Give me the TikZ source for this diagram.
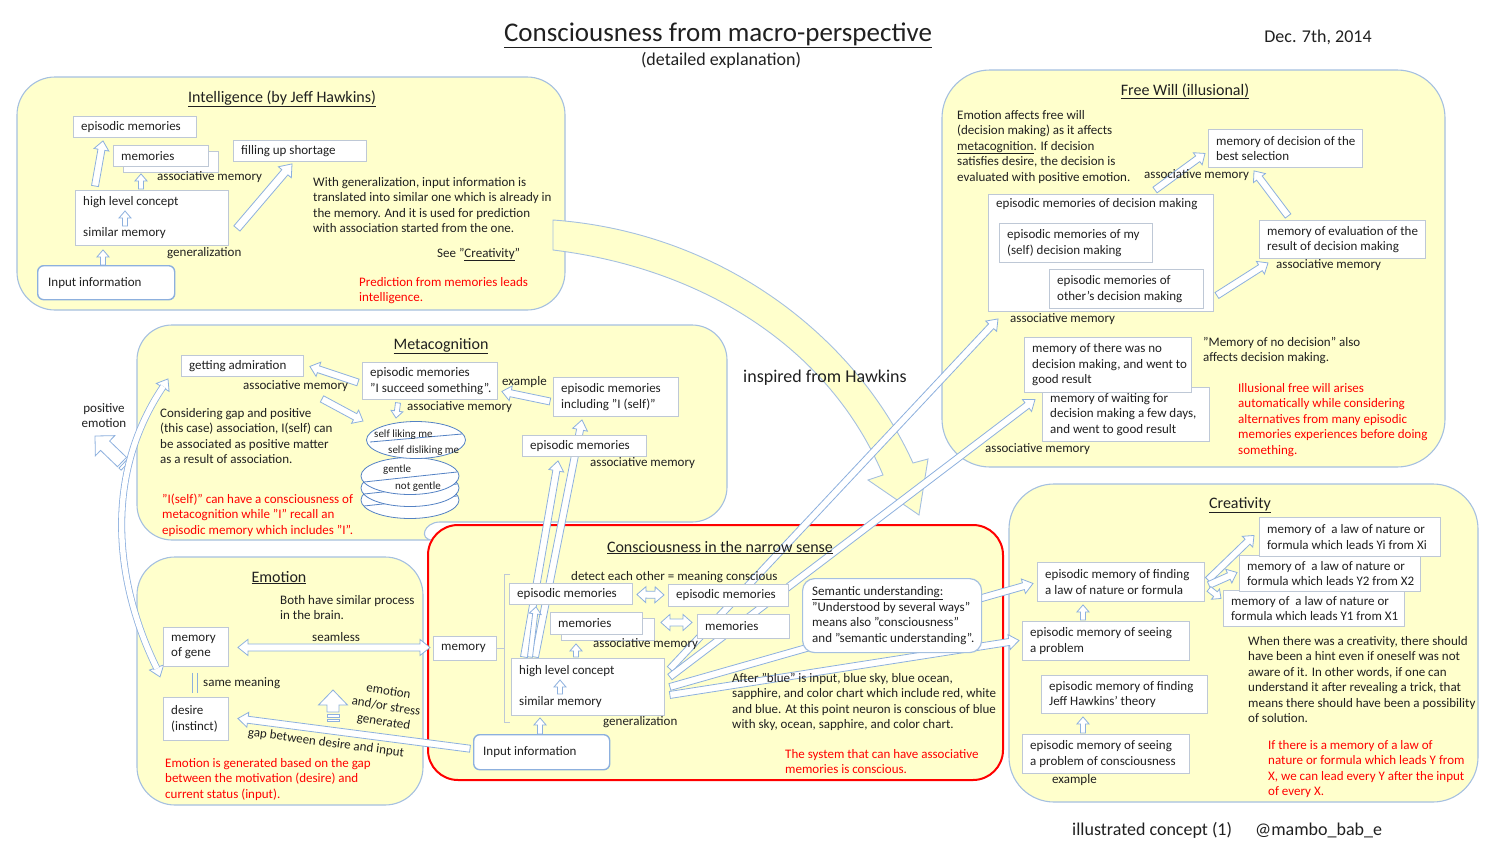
\documentclass[tikz,border=0pt]{standalone}
\usepackage{fontspec}
\setmainfont{Carlito}
\usetikzlibrary{calc}

\definecolor{panelfill}{RGB}{255,255,204}
\definecolor{panelline}{RGB}{165,192,224}
\definecolor{boxline}{RGB}{190,200,214}
\definecolor{arrowline}{RGB}{141,176,222}
\definecolor{discline}{RGB}{84,130,196}
\definecolor{txt}{RGB}{32,32,32}

\newcommand{\titlesize}{\fontsize{27}{32}\selectfont}
\newcommand{\subsize}{\fontsize{18}{22}\selectfont}
\newcommand{\hdrsize}{\fontsize{16}{19}\selectfont}
\newcommand{\bodysize}{\fontsize{13}{15.5}\selectfont}
\newcommand{\discsize}{\fontsize{11}{13}\selectfont}

\pgfdeclarelayer{panels}
\pgfdeclarelayer{arrows}
\pgfsetlayers{panels,arrows,main}

% hollow block arrow: tail, tip, shaft half width, head half width, head length
\newcommand{\blockarrow}[5]{%
  \coordinate (ta) at (#1);
  \coordinate (tb) at (#2);
  \coordinate (hb) at ($(tb)!#5!(ta)$);
  \filldraw[harrow] ($(ta)!#3!90:(tb)$) -- ($(hb)!#3!90:(tb)$) -- ($(hb)!#4!90:(tb)$) -- (tb)
    -- ($(hb)!#4!-90:(tb)$) -- ($(hb)!#3!-90:(tb)$) -- ($(ta)!#3!-90:(tb)$) -- cycle;}
% same with a head at both ends
\newcommand{\dblockarrow}[5]{%
  \coordinate (ta) at (#1);
  \coordinate (tb) at (#2);
  \coordinate (ha) at ($(ta)!#5!(tb)$);
  \coordinate (hb) at ($(tb)!#5!(ta)$);
  \filldraw[harrow] (ta) -- ($(ha)!#4!90:(tb)$) -- ($(ha)!#3!90:(tb)$) -- ($(hb)!#3!90:(tb)$)
    -- ($(hb)!#4!90:(tb)$) -- (tb) -- ($(hb)!#4!-90:(tb)$) -- ($(hb)!#3!-90:(tb)$)
    -- ($(ha)!#3!-90:(tb)$) -- ($(ha)!#4!-90:(tb)$) -- cycle;}

\tikzset{
  panel/.style={draw=panelline, fill=panelfill, line width=1.1pt},
  box/.style 2 args={draw=boxline, fill=white, line width=0.9pt, anchor=north west,
    inner sep=0pt, minimum width=#1, minimum height=#2},
  inbox/.style 2 args={box={#1}{#2}, draw=arrowline, line width=1.4pt, rounded corners=6pt},
  boxtext/.style={anchor=west, xshift=8pt, align=left, inner sep=0pt},
  lbl/.style={anchor=base west, inner sep=0pt, align=left},
  redlbl/.style={lbl, text=red},
  hdr/.style={anchor=base, inner sep=0pt, font=\hdrsize},
  harrow/.style={draw=arrowline, fill=white, line width=0.8pt, line join=miter},
  discshape/.style={draw=discline, fill=white, line width=0.8pt},
}

\begin{document}
\begin{tikzpicture}[x=1pt, y=-1pt, font=\bodysize, text=txt]
  \useasboundingbox (0,0) rectangle (1500,844);

  % panels
  \begin{pgfonlayer}{panels}
    \draw[panel, rounded corners=38pt] (17,77) rectangle (565,310);
    \draw[panel] [rounded corners=35pt] (440,522) -- (727,522) -- (727,325) -- (137,325) -- (137,540) -- (398,540)
      [sharp corners] .. controls (418,540) and (424,522) .. cycle;
    \draw[panel, rounded corners=38pt] (137,557) rectangle (423,805);
    \draw[panel, rounded corners=48pt] (942,70) rectangle (1445,467);
    \draw[panel, rounded corners=45pt] (1009,484) rectangle (1478,802);
    \draw[panel, draw=red, line width=2pt, rounded corners=30pt] (428,525) rectangle (1003,780);
    % inspired from Hawkins
    \filldraw[panel, line width=0.9pt] (553,220) .. controls (720,232) and (855,335) .. (913,463)
      -- (928,459) -- (919,515) -- (868,480) -- (883,475)
      .. controls (828,345) and (700,268) .. (553,250) -- cycle;
  \end{pgfonlayer}

  % title
  \node[anchor=base, font=\titlesize] (title) at (718,41) {\underline{Consciousness from macro-perspective}};
  \node[anchor=base, font=\subsize] (subtitle) at (721,65) {(detailed explanation)};
  \node[anchor=base, font=\subsize] (date) at (1318,42) {Dec. 7th, 2014};

  % Intelligence
  \node[hdr] (intTitle) at (282,102) {\underline{Intelligence (by Jeff Hawkins)}};
  \node[box={123}{21}, label={[boxtext]west:{episodic memories}}] (intEpi) at (73,116) {};
  \node[box={95}{21}] (intMemB) at (123,151) {};
  \node[box={95}{21}, label={[boxtext]west:{memories}}] (intMem) at (113,145) {};
  \node[box={133}{21}, label={[boxtext]west:{filling up shortage}}] (intFill) at (233,140) {};
  \node[box={153}{55}, label={[boxtext]west:{high level concept\\[15.5pt]similar memory}}] (intHlc) at (75,190) {};
  \node[inbox={137}{34}, label={[boxtext, xshift=3pt]west:{Input information}}] (intInput) at (37,265) {};
  \node[lbl] (intAssoc) at (157,180) {associative memory};
  \node[lbl] (intGen) at (167,256) {generalization};
  \node[lbl] (intNote) at (313,232.5) {With generalization, input information is\\translated into similar one which is already in\\the memory. And it is used for prediction\\with association started from the one.};
  \node[lbl] (intSee) at (437,257) {See "\underline{Creativity}"};
  \node[redlbl] (intRed) at (359,301.5) {Prediction from memories leads\\intelligence.};

  % Metacognition
  \node[hdr] (metTitle) at (441,349) {\underline{Metacognition}};
  \node[box={122}{21}, label={[boxtext]west:{getting admiration}}] (metAdm) at (181,355) {};
  \node[box={135}{37}, label={[boxtext]west:{episodic memories\\"I succeed something".}}] (metSucc) at (362,362) {};
  \node[box={125}{39}, label={[boxtext]west:{episodic memories\\including "I (self)"}}] (metIncl) at (553,377) {};
  \node[box={124}{21}, label={[boxtext]west:{episodic memories}}] (metEpi) at (522,435) {};
  \node[lbl] (metAssocA) at (243,389) {associative memory};
  \node[lbl] (metExample) at (502,385) {example};
  \node[lbl] (metAssocB) at (407,410) {associative memory};
  \node[lbl] (metAssocC) at (590,466) {associative memory};
  \node[lbl] (metNote) at (160,463.5) {Considering gap and positive\\(this case) association, I(self) can\\be associated as positive matter\\as a result of association.};
  \node[redlbl] (metRed) at (162,534) {"I(self)" can have a consciousness of\\metacognition while "I" recall an\\episodic memory which includes "I".};
  \coordinate (disc) at (416,440);
  \foreach \dy in {60,48,36} {
    \draw[discshape] ($(disc)+(-6,\dy)$) ellipse [x radius=49pt, y radius=18.5pt];
    \draw[discline, line width=0.8pt] ($(disc)+(-52,\dy+6)$) -- ($(disc)+(41,\dy-4)$);
  }
  \draw[discshape] (disc) ellipse [x radius=49.5pt, y radius=18.5pt];
  \draw[discline, line width=0.8pt] ($(disc)+(-46,2)$) -- ($(disc)+(46,-6)$);
  \node[lbl, font=\discsize] (discLike) at ($(disc)+(-42,-3)$) {self liking me};
  \node[lbl, font=\discsize] (discDislike) at ($(disc)+(-28,13)$) {self disliking me};
  \node[lbl, font=\discsize] (discGentle) at ($(disc)+(-33,32)$) {gentle};
  \node[lbl, font=\discsize] (discNot) at ($(disc)+(-21,49)$) {not gentle};
  \node[anchor=base, align=center, inner sep=0pt] (posEmo) at (104,427.5) {positive\\emotion};

  % Emotion
  \node[hdr] (emoTitle) at (279,582) {\underline{Emotion}};
  \node[lbl] (emoBoth) at (280,619.5) {Both have similar process\\in the brain.};
  \node[box={65}{39}, label={[boxtext]west:{memory\\of gene}}] (emoGene) at (163,627) {};
  \node[lbl] (emoSeamless) at (312,641) {seamless};
  \draw[arrowline, line width=0.9pt] ($(emoGene.south west)+(29,6)$) -- +(0,20)
    ($(emoGene.south west)+(34,6)$) -- +(0,20);
  \node[lbl] (emoSame) at (203,686) {same meaning};
  \node[box={65}{43}, label={[boxtext]west:{desire\\(instinct)}}] (emoDesire) at (163,697) {};
  \node[align=center, rotate=-9, inner sep=0pt] (emoStress) at (386,707) {emotion\\and/or stress\\generated};
  \node[rotate=-7.5, inner sep=0pt] (emoGap) at (326,743) {gap between desire and input};
  \node[redlbl] (emoRed) at (165,798) {Emotion is generated based on the gap\\between the motivation (desire) and\\current status (input).};

  % Consciousness in the narrow sense
  \node[hdr] (conTitle) at (720,552) {\underline{Consciousness in the narrow sense}};
  \node[lbl] (conDetect) at (571,580) {detect each other = meaning conscious};
  \node[box={63}{24}, label={[boxtext]west:{memory}}] (conMem) at (433,636) {};
  \draw[boxline, line width=0.9pt] (510,574) -- (504,574) -- (504,722) -- (510,722) (497,648) -- (504,648);
  \node[box={123}{21}, label={[boxtext]west:{episodic memories}}] (conEpiL) at (509,583) {};
  \node[box={120}{22}, label={[boxtext]west:{episodic memories}}] (conEpiR) at (668,584) {};
  \node[box={93}{22}] (conMemLB) at (561,618) {};
  \node[box={92}{22}, label={[boxtext]west:{memories}}] (conMemL) at (550,612) {};
  \node[box={92}{24}, label={[boxtext]west:{memories}}] (conMemR) at (697,614) {};
  \node[lbl] (conAssoc) at (593,647) {associative memory};
  \node[box={153}{57}, label={[boxtext]west:{high level concept\\[15.5pt]similar memory}}] (conHlc) at (511,658) {};
  \node[lbl] (conGen) at (603,725) {generalization};
  \node[inbox={136}{35}, label={[boxtext, xshift=2pt]west:{Input information}}] (conInput) at (473,734) {};
  \node[box={179}{74}, draw=panelline, line width=1.2pt, rounded corners=12pt,
    label={[boxtext, xshift=2pt]west:{\underline{Semantic understanding:}\\"Understood by several ways"\\means also "consciousness"\\and "semantic understanding".}}] (conSem) at (802,578) {};
  \node[lbl] (conBlue) at (732,728.5) {After "blue" is input, blue sky, blue ocean,\\sapphire, and color chart which include red, white\\and blue. At this point neuron is conscious of blue\\with sky, ocean, sapphire, and color chart.};
  \node[redlbl] (conRed) at (785,773.5) {The system that can have associative\\memories is conscious.};
  \node[lbl, font=\subsize] (inspired) at (743,382) {inspired from Hawkins};

  % Free Will
  \node[hdr] (fwTitle) at (1185,95) {\underline{Free Will (illusional)}};
  \node[lbl] (fwNote) at (957,181) {Emotion affects free will\\(decision making) as it affects\\\underline{metacognition}. If decision\\satisfies desire, the decision is\\evaluated with positive emotion.};
  \node[box={154}{38}, label={[boxtext]west:{memory of decision of the\\best selection}}] (fwBest) at (1208,129) {};
  \node[lbl] (fwAssocA) at (1144,178) {associative memory};
  \node[box={166}{38}, label={[boxtext]west:{memory of evaluation of the\\result of decision making}}] (fwEval) at (1259,220) {};
  \node[lbl] (fwAssocB) at (1276,268) {associative memory};
  \node[box={225}{117}, label={[boxtext, anchor=north west, yshift=-4pt]north west:{episodic memories of decision making}}] (fwOuter) at (988,194) {};
  \node[box={153}{39}, label={[boxtext]west:{episodic memories of my\\(self) decision making}}] (fwSelf) at (999,223) {};
  \node[box={154}{39}, label={[boxtext]west:{episodic memories of\\other's decision making}}] (fwOther) at (1049,269) {};
  \node[lbl] (fwAssocC) at (1010,322) {associative memory};
  \node[box={167}{54}, label={[boxtext]west:{memory of waiting for\\decision making a few days,\\and went to good result}}] (fwWait) at (1042,387) {};
  \node[box={167}{55}, label={[boxtext]west:{memory of there was no\\decision making, and went to\\good result}}] (fwNone) at (1024,337) {};
  \node[lbl] (fwAssocD) at (985,452) {associative memory};
  \node[lbl] (fwNoDec) at (1203,361.5) {"Memory of no decision" also\\affects decision making.};
  \node[redlbl] (fwRed) at (1238,454) {Illusional free will arises\\automatically while considering\\alternatives from many episodic\\memories experiences before doing\\something.};

  % Creativity
  \node[hdr] (crTitle) at (1240,508) {\underline{Creativity}};
  \node[box={181}{36}, label={[boxtext]west:{memory of\ \ a law of nature or\\formula which leads Y1 from X1}}] (crY1) at (1223,590) {};
  \node[box={181}{36}, label={[boxtext]west:{memory of\ \ a law of nature or\\formula which leads Y2 from X2}}] (crY2) at (1239,555) {};
  \node[box={181}{39}, label={[boxtext]west:{memory of\ \ a law of nature or\\formula which leads Yi from Xi}}] (crYi) at (1259,517) {};
  \node[box={167}{39}, label={[boxtext]west:{episodic memory of finding\\a law of nature or formula}}] (crLaw) at (1037,562) {};
  \node[box={167}{39}, label={[boxtext]west:{episodic memory of seeing\\a problem}}] (crProb) at (1022,621) {};
  \node[box={166}{38}, label={[boxtext]west:{episodic memory of finding\\Jeff Hawkins' theory}}] (crJeff) at (1041,675) {};
  \node[box={167}{39}, label={[boxtext]west:{episodic memory of seeing\\a problem of consciousness}}] (crCons) at (1022,734) {};
  \node[lbl] (crExample) at (1052,783) {example};
  \node[lbl] (crNote) at (1248,722.5) {When there was a creativity, there should\\have been a hint even if oneself was not\\aware of it. In other words, if one can\\understand it after revealing a trick, that\\means there should have been a possibility\\of solution.};
  \node[redlbl] (crRed) at (1268,795.5) {If there is a memory of a law of\\nature or formula which leads Y from\\X, we can lead every Y after the input\\of every X.};

  % footer
  \node[lbl, font=\subsize] (footer) at (1072,835) {illustrated concept (1)};
  \node[lbl, font=\subsize] (handle) at (1255,835) {@mambo\_bab\_e};

  % arrows inside boxes
  \blockarrow{$(intHlc.north west)+(50,36)$}{$(intHlc.north west)+(50,21)$}{2.5pt}{6pt}{7pt}
  \blockarrow{$(conHlc.north west)+(49,36)$}{$(conHlc.north west)+(49,22)$}{2.5pt}{6pt}{7pt}

  \begin{pgfonlayer}{arrows}
    % intelligence
    \blockarrow{$(intHlc.north west)+(20,-4)$}{$(intEpi.south west)+(30,3)$}{3.5pt}{7.5pt}{9pt}
    \blockarrow{$(intHlc.north west)+(66,-1)$}{$(intMemB.south west)+(18,1)$}{2.5pt}{6pt}{7pt}
    \blockarrow{$(intInput.north west)+(66,0)$}{$(intHlc.south west)+(28,4)$}{2.5pt}{6pt}{7pt}
    \blockarrow{$(intHlc.east)+(8,10.5)$}{$(intFill.south west)+(59,2)$}{4pt}{8.5pt}{11pt}
    % metacognition
    \blockarrow{$(metSucc.west)+(-4,1.5)$}{$(metAdm.east)+(6,0.5)$}{3.5pt}{7.5pt}{9pt}
    \blockarrow{$(metAdm.south west)+(141,22)$}{$(disc)+(-53,-19)$}{3.5pt}{7.5pt}{9pt}
    \blockarrow{$(metSucc.south west)+(36,3)$}{$(disc)+(-20,-22)$}{2.5pt}{6pt}{7pt}
    \blockarrow{$(metIncl.west)+(-3,4.5)$}{$(metSucc.east)+(4,10.5)$}{3.5pt}{7.5pt}{9pt}
    \blockarrow{$(conHlc.north west)+(13,-1)$}{$(metEpi.south west)+(36,4)$}{3.5pt}{7.5pt}{10pt}
    \blockarrow{$(conHlc.north west)+(24,-1)$}{$(metIncl.south west)+(29,3)$}{3.5pt}{7.5pt}{10pt}
    \blockarrow{$(conHlc.north west)+(19,-1)$}{$(conEpiL.south west)+(27,2)$}{2.5pt}{6pt}{7pt}
    % positive emotion
    \coordinate (posTail) at (122,462);
    \coordinate (posTip) at (95,436);
    \blockarrow{posTail}{posTip}{6.5pt}{14pt}{14pt}
    \coordinate (posS1) at ($(posTail)!-2pt!(posTip)$);
    \coordinate (posS2) at ($(posTail)!-5pt!(posTip)$);
    \filldraw[harrow] ($(posS1)!6.5pt!90:(posTip)$) -- ($(posS1)!6.5pt!-90:(posTip)$)
      -- ($(posS2)!6.5pt!-90:(posTip)$) -- ($(posS2)!6.5pt!90:(posTip)$) -- cycle;
    % emotion <-> metacognition
    \coordinate (curTop) at ($(metAdm.south west)+(-13,2)$);
    \coordinate (curBot) at ($(emoGene.south west)+(-3,10)$);
    \coordinate (curTopB) at ($(curTop)+(-5.3,8.5)$);
    \coordinate (curBotB) at ($(curBot)+(-3.4,-9.4)$);
    \blockarrow{curTopB}{curTop}{0pt}{7.5pt}{10pt}
    \blockarrow{curBotB}{curBot}{0pt}{7.5pt}{10pt}
    \draw[arrowline, line width=0.8pt, double=white, double distance=5.4pt]
      ($(curTopB)+(0.6,-1)$) .. controls (100,480) and (118,590) .. ($(curBotB)+(0.3,1)$);
    % emotion
    \dblockarrow{$(emoGene.east)+(9,0.5)$}{$(conMem.west)+(-3,-1)$}{3.5pt}{8pt}{10pt}
    \blockarrow{$(conInput.west)+(-3,-3.5)$}{$(emoDesire.east)+(9,-0.5)$}{3.5pt}{7.5pt}{10pt}
    \coordinate (stressTail) at (333,712);
    \coordinate (stressTip) at (333,690);
    \blockarrow{stressTail}{stressTip}{6pt}{14.5pt}{15pt}
    \filldraw[harrow] ($(stressTail)+(-6,2.5)$) rectangle ($(stressTail)+(6,5)$);
    \filldraw[harrow] ($(stressTail)+(-6,7)$) rectangle ($(stressTail)+(6,9.5)$);
    % consciousness
    \dblockarrow{$(conEpiL.east)+(4,0.5)$}{$(conEpiR.west)+(-4,-0.5)$}{3.5pt}{8pt}{9pt}
    \dblockarrow{$(conMemLB.east)+(6,-7)$}{$(conMemR.west)+(-5,-4)$}{3.5pt}{8pt}{9pt}
    \blockarrow{$(conHlc.north west)+(65,-1)$}{$(conMemLB.south west)+(15,3)$}{2.5pt}{6pt}{7pt}
    \blockarrow{$(conInput.north west)+(67,0)$}{$(conHlc.south west)+(29,2)$}{2.5pt}{6pt}{7pt}
    \blockarrow{$(conHlc.east)+(5,-18)$}{$(fwOuter.south west)+(10,7)$}{3.5pt}{7.5pt}{10pt}
    \blockarrow{$(conHlc.east)+(5,-10)$}{$(fwWait.west)+(-7,-15)$}{3.5pt}{7.5pt}{10pt}
    \blockarrow{$(conHlc.east)+(5,0)$}{$(crLaw.west)+(-4,1.5)$}{3.5pt}{7.5pt}{10pt}
    \blockarrow{$(conHlc.east)+(5,8)$}{$(crProb.west)+(-3,-0.5)$}{3.5pt}{7.5pt}{10pt}
    % free will
    \blockarrow{$(fwOuter.north west)+(167,-4)$}{$(fwBest.west)+(-3,5)$}{3.5pt}{7.5pt}{9pt}
    \blockarrow{$(fwEval.north west)+(29,-4)$}{$(fwBest.south west)+(46,3)$}{3.5pt}{7.5pt}{9pt}
    \blockarrow{$(fwOuter.east)+(3,42.5)$}{$(fwEval.south west)+(9,4)$}{3.5pt}{7.5pt}{9pt}
    % creativity
    \blockarrow{$(crLaw.east)+(3,-2)$}{$(crYi.west)+(-5,-1.5)$}{3.5pt}{7.5pt}{9pt}
    \blockarrow{$(crLaw.east)+(4,3)$}{$(crY2.west)+(-2,-1)$}{3.5pt}{7.5pt}{9pt}
    \blockarrow{$(crLaw.east)+(4,7)$}{$(crY1.west)+(-2,-10)$}{3pt}{6.5pt}{7pt}
    \blockarrow{$(crProb.north west)+(61,-1)$}{$(crLaw.south west)+(46,3)$}{2.5pt}{6pt}{7pt}
    \blockarrow{$(crCons.north west)+(61,-1)$}{$(crJeff.south west)+(42,3)$}{2.5pt}{6pt}{7pt}
  \end{pgfonlayer}
\end{tikzpicture}
\end{document}
